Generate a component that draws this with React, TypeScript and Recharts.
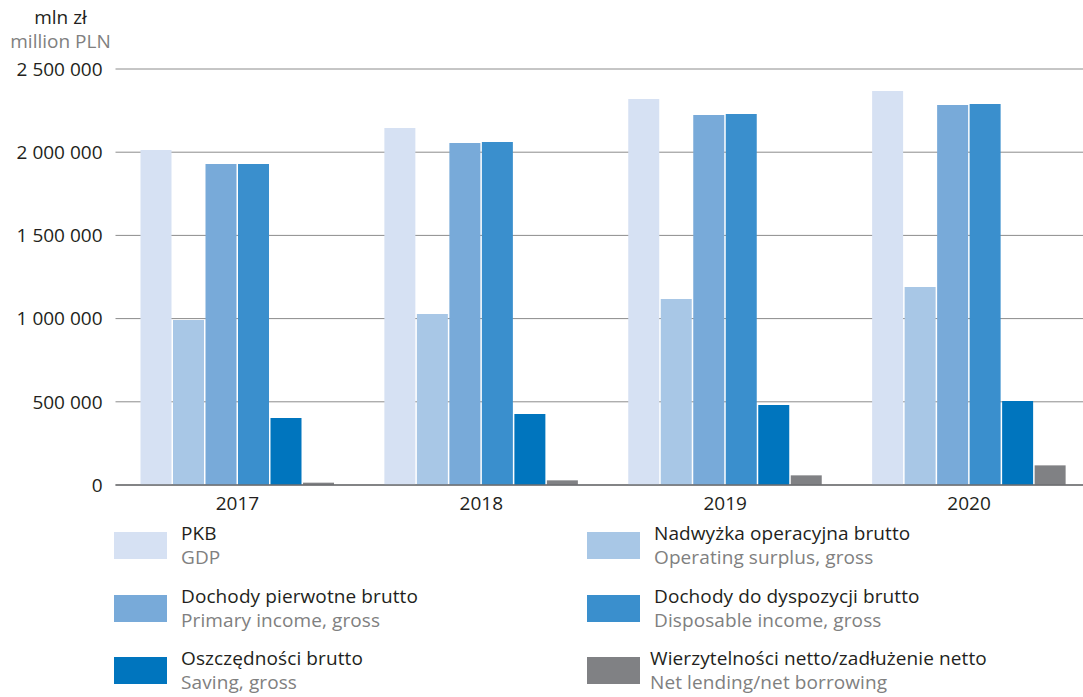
import React from 'react';
import { BarChart, Bar, XAxis, YAxis, CartesianGrid } from 'recharts';

const years = ['2017', '2018', '2019', '2020'];

const pkb = [2013000, 2145000, 2320000, 2368000];
const nadwyzka = [992000, 1028000, 1118000, 1190000];
const pierwotne = [1929000, 2055000, 2224000, 2284000];
const dyspozycji = [1929000, 2061000, 2230000, 2290000];
const oszczednosci = [403000, 427000, 481000, 505000];
const wierzytelnosci = [14000, 28000, 58000, 118000];

const yTicks = [0, 500000, 1000000, 1500000, 2000000, 2500000];

const seriesInfo = [
  { key: 'pkb', pl: 'PKB', en: 'GDP', color: '#d6e1f3' },
  { key: 'nadwyzka', pl: 'Nadwyżka operacyjna brutto', en: 'Operating surplus, gross', color: '#a8c7e6' },
  { key: 'pierwotne', pl: 'Dochody pierwotne brutto', en: 'Primary income, gross', color: '#78aad9' },
  { key: 'dyspozycji', pl: 'Dochody do dyspozycji brutto', en: 'Disposable income, gross', color: '#3a8fcd' },
  { key: 'oszczednosci', pl: 'Oszczędności brutto', en: 'Saving, gross', color: '#0075be' },
  { key: 'wierzytelnosci', pl: 'Wierzytelności netto/zadłużenie netto', en: 'Net lending/net borrowing', color: '#808184' },
];

const data = years.map((year, i) => ({
  year,
  pkb: pkb[i],
  nadwyzka: nadwyzka[i],
  pierwotne: pierwotne[i],
  dyspozycji: dyspozycji[i],
  oszczednosci: oszczednosci[i],
  wierzytelnosci: wierzytelnosci[i],
}));

const FONT = '"Open Sans", sans-serif';

const formatTick = (v: number) => String(v).replace(/\B(?=(\d{3})+(?!\d))/g, ' ');

function ChartLegend() {
  return (
    <div style={{ position: 'absolute', left: 0, top: 525, width: 1083, height: 172, fontFamily: FONT }}>
      {seriesInfo.map((s, i) => {
        const col = i % 2;
        const row = Math.floor(i / 2);
        const left = col === 0 ? 114 : 587;
        const top = row * 62.5;
        return (
          <div key={s.key} style={{ position: 'absolute', left, top, height: 56 }}>
            <div style={{ position: 'absolute', left: 0, top: 7, width: 53, height: 27, background: s.color }} />
            <div style={{ position: 'absolute', left: i === 5 ? 63 : 67, top: -4, whiteSpace: 'nowrap', lineHeight: '24px', letterSpacing: 0.1 }}>
              <div style={{ fontSize: 19, color: '#231f20' }}>{s.pl}</div>
              <div style={{ fontSize: 19, color: '#808080' }}>{s.en}</div>
            </div>
          </div>
        );
      })}
    </div>
  );
}

export default function App() {
  return (
    <div style={{ position: 'absolute', left: 0, top: 0, width: 1083, height: 697, overflow: 'hidden', background: '#fff', fontFamily: FONT }}>
      <div style={{ position: 'absolute', left: 0, width: 121, top: 5, textAlign: 'center', fontSize: 19, lineHeight: '24px' }}>
        <div style={{ color: '#231f20' }}>mln zł</div>
        <div style={{ color: '#808080' }}>million PLN</div>
      </div>
      {/* plot runs a little past the right edge, as in the source figure */}
      <BarChart
        width={1091}
        height={697}
        data={data}
        margin={{ top: 69, right: 0, left: 0, bottom: 182 }}
        barCategoryGap={25}
        barGap={1.5}
      >
        <CartesianGrid vertical={false} stroke="#8c8c8c" strokeWidth={1} />
        <XAxis
          dataKey="year"
          height={30}
          axisLine={{ stroke: '#6d6e71', strokeWidth: 1.5 }}
          tickLine={false}
          tick={{ fontSize: 19, fill: '#231f20', fontFamily: FONT }}
          tickMargin={6}
        />
        <YAxis
          width={115.5}
          domain={[0, 2500000]}
          ticks={yTicks}
          axisLine={false}
          tickLine={false}
          tickMargin={7}
          tickFormatter={formatTick}
          tick={{ fontSize: 19, fill: '#231f20', fontFamily: FONT }}
        />
        {seriesInfo.map((s) => (
          <Bar key={s.key} dataKey={s.key} fill={s.color} isAnimationActive={false} />
        ))}
      </BarChart>
      <ChartLegend />
    </div>
  );
}
